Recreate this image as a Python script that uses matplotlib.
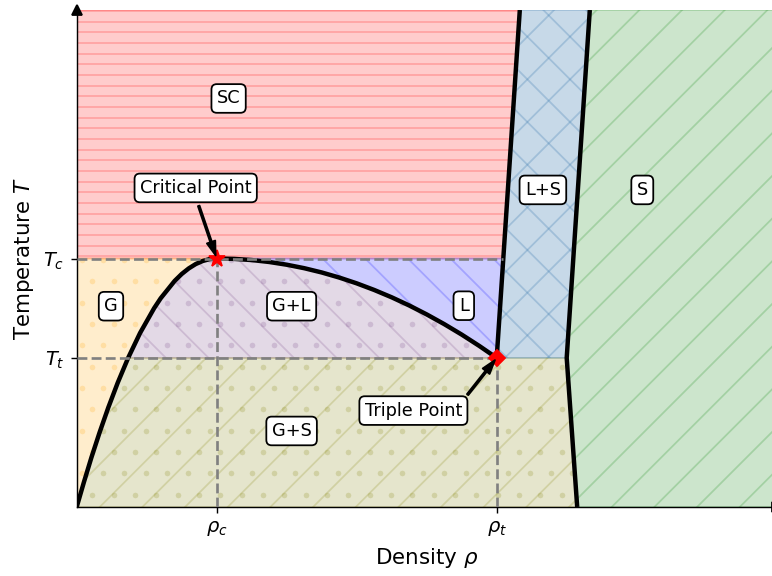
import numpy as np
import matplotlib
matplotlib.use('Agg')
import matplotlib.pyplot as plt
from matplotlib.collections import LineCollection
from matplotlib.colors import to_rgba
from matplotlib.transforms import IdentityTransform

# critical and triple points
rho_c, T_c = 0.2, 0.5
rho_t, T_t = 0.6, 0.3

# gas side of the coexistence curve, from the origin up to the critical point
gas_rho = [0.0, 0.0103, 0.0211, 0.0327, 0.0451, 0.0586, 0.0735, 0.0905, 0.1106,
           0.12, 0.13, 0.14, 0.15, 0.16, 0.17, 0.18, 0.19, 0.2]
gas_T = [0.0, 0.05, 0.10, 0.15, 0.20, 0.25, 0.30, 0.35, 0.40,
         0.42, 0.4375, 0.455, 0.4688, 0.48, 0.4888, 0.495, 0.4988, 0.5]

# liquid side, from the critical point down to the triple point
liq_rho = [0.2, 0.225, 0.25, 0.275, 0.3, 0.325, 0.35, 0.375, 0.4,
           0.425, 0.45, 0.475, 0.5, 0.525, 0.55, 0.575, 0.6]
liq_T = [0.5, 0.4992, 0.4969, 0.4930, 0.4875, 0.4805, 0.4719, 0.4617, 0.45,
         0.4367, 0.4219, 0.4055, 0.3875, 0.3680, 0.3469, 0.3242, 0.3]

# melting line (liquid / liquid+solid) and solid boundary
melt_rho = [0.6, 0.633]
melt_T = [0.3, 1.0]
solid_rho = [0.715, 0.70, 0.733]
solid_T = [0.0, 0.3, 1.0]

region_labels = ['SC', 'G', 'G+L', 'L', 'G+S', 'L+S', 'S']
label_x = [0.217, 0.049, 0.307, 0.553, 0.307, 0.666, 0.808]
label_y = [0.822, 0.404, 0.404, 0.405, 0.153, 0.638, 0.638]

gas_rho, gas_T = np.array(gas_rho), np.array(gas_T)
liq_rho, liq_T = np.array(liq_rho), np.array(liq_T)
melt_at_Tc = np.interp(T_c, melt_T, melt_rho)

W, H, DPI = 772, 576, 128
fig = plt.figure(figsize=(W / DPI, H / DPI), dpi=DPI)
ax = fig.add_axes([76.7 / W, 69 / H, 700 / W, 497 / H])

TILE = 128.0  # hatch repeat in pixels


def add_hatch(patch, pattern, color, alpha):
    """Hatch a patch by hand: lines and dots in pixel space, clipped to it."""
    rgba = to_rgba(color, alpha)
    segs = []
    if '-' in pattern:
        for y in np.arange(0.4, H, TILE / 12):
            segs.append([(0, H - y), (W, H - y)])
    if '/' in pattern or 'x' in pattern:
        for c in np.arange(9.4, W + H, TILE / 3):
            segs.append([(c, H), (c - H, 0)])
    if '\\' in pattern or 'x' in pattern:
        for c in np.arange(-H, W, TILE / 3):
            segs.append([(c, H), (c + H, 0)])
    if segs:
        lc = LineCollection(segs, colors=[rgba], linewidths=1.0,
                            transform=IdentityTransform(), zorder=1.5)
        ax.add_collection(lc, autolim=False)
        lc.set_clip_path(patch)
    if '.' in pattern:
        step = TILE / 6
        xs, ys = [], []
        for i, y in enumerate(np.arange(4.0, H, step)):
            x0 = 17.7 if i % 2 == 0 else 7.0
            for x in np.arange(x0, W, step):
                xs.append(x)
                ys.append(H - y)
        sc = ax.scatter(xs, ys, s=10, color=[rgba], linewidths=0,
                        transform=IdentityTransform(), zorder=1.5)
        sc.set_clip_path(patch)


def region(xs, ys, color, alpha, pattern):
    patch = ax.fill(xs, ys, color=color, alpha=alpha, zorder=1)[0]
    add_hatch(patch, pattern, color, alpha)


above = gas_T >= T_t
below = gas_T <= T_t

# supercritical fluid
region([0, melt_at_Tc, melt_rho[1], 0], [T_c, T_c, melt_T[1], 1.0],
       'red', 0.2, '--')
# gas
region(np.r_[gas_rho, 0], np.r_[gas_T, T_c], 'orange', 0.2, '.')
# gas + liquid
region(np.r_[gas_rho[above], liq_rho[1:]], np.r_[gas_T[above], liq_T[1:]],
       '#734182', 0.2, '\\.')
# liquid
region(np.r_[liq_rho, melt_at_Tc], np.r_[liq_T, T_c], 'blue', 0.2, '\\')
# gas + solid
region(np.r_[gas_rho[below], solid_rho[1], solid_rho[0]],
       np.r_[gas_T[below], solid_T[1], solid_T[0]], 'olive', 0.2, '/.')
# liquid + solid
region([melt_rho[0], solid_rho[1], solid_rho[2], melt_rho[1]],
       [melt_T[0], solid_T[1], solid_T[2], melt_T[1]], 'steelblue', 0.3, 'x')
# solid
region(np.r_[solid_rho, 1, 1], np.r_[solid_T, 1, 0], 'green', 0.2, '/')

# phase boundaries
line_kw = dict(color='black', lw=2.5, zorder=3, solid_capstyle='butt')
ax.plot(gas_rho, gas_T, **line_kw)
ax.plot(liq_rho, liq_T, **line_kw)
ax.plot(melt_rho, melt_T, **line_kw)
ax.plot(solid_rho, solid_T, **line_kw)

# guides to the axes
dash_kw = dict(color='gray', ls='--', lw=1.5, zorder=4)
ax.plot([0, melt_at_Tc], [T_c, T_c], **dash_kw)
ax.plot([0, rho_t], [T_t, T_t], **dash_kw)
ax.plot([rho_c, rho_c], [0, T_c], **dash_kw)
ax.plot([rho_t, rho_t], [0, T_t], **dash_kw)

ax.plot(rho_c, T_c, '*', color='red', ms=10, zorder=5)
ax.plot(rho_t, T_t, 'D', color='red', ms=6, zorder=5)

box = dict(boxstyle='round,pad=0.3', fc='white', ec='black')
for s, x, y in zip(region_labels, label_x, label_y):
    ax.text(x, y, s, ha='center', va='center', fontsize=10, bbox=box, zorder=6)

arrow = dict(facecolor='black', width=1, headwidth=5, headlength=8, shrink=0.05)
ax.annotate('Critical Point', xy=(rho_c, T_c), xytext=(0.170, 0.642),
            ha='center', va='center', fontsize=10, bbox=box, arrowprops=arrow, zorder=6)
ax.annotate('Triple Point', xy=(rho_t, T_t), xytext=(0.481, 0.194),
            ha='center', va='center', fontsize=10, bbox=box, arrowprops=arrow, zorder=6)

ax.set_xlim(0, 1)
ax.set_ylim(0, 1)
ax.set_xticks([rho_c, rho_t], [r'$\rho_c$', r'$\rho_t$'])
ax.set_yticks([T_c, T_t], [r'$T_c$', r'$T_t$'])
ax.tick_params(labelsize=11)
ax.set_xlabel(r'Density $\rho$', fontsize=12)
ax.set_ylabel(r'Temperature $T$', fontsize=12)
ax.spines['top'].set_visible(False)
ax.spines['right'].set_visible(False)

# arrow heads on the axes
ax.plot(1, 0, '>k', transform=ax.transAxes, clip_on=False)
ax.plot(0, 1, '^k', transform=ax.transAxes, clip_on=False)

fig.savefig('out.png', dpi=DPI)
